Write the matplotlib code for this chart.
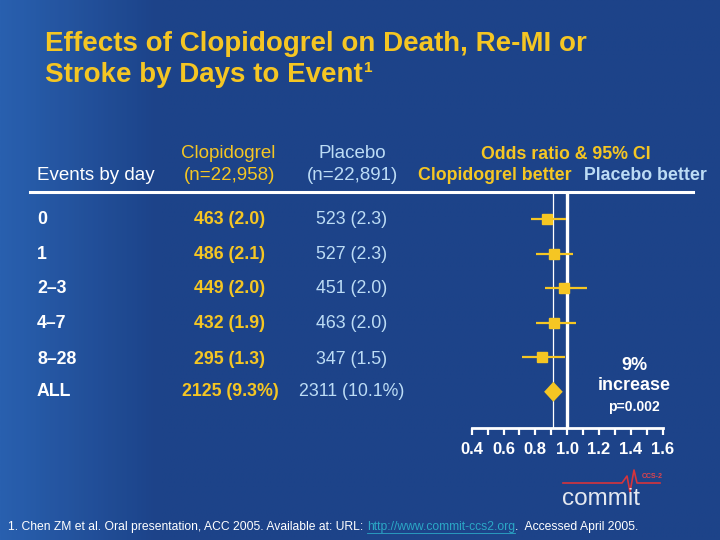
import numpy as np
import matplotlib
matplotlib.use("Agg")
import matplotlib.pyplot as plt
from matplotlib.lines import Line2D

plt.rcParams["font.family"] = ["Liberation Sans", "DejaVu Sans"]

# data
days = ["0", "1", "2\u20133", "4\u20137", "8\u201328", "ALL"]
clop_events = ["463 (2.0)", "486 (2.1)", "449 (2.0)", "432 (1.9)", "295 (1.3)", "2125 (9.3%)"]
plac_events = ["523 (2.3)", "527 (2.3)", "451 (2.0)", "463 (2.0)", "347 (1.5)", "2311 (10.1%)"]
odds = [0.875, 0.918, 0.98, 0.918, 0.842]
ci_lo = [0.773, 0.805, 0.861, 0.805, 0.716]
ci_hi = [0.993, 1.035, 1.123, 1.056, 0.987]
all_or, all_lo, all_hi = 0.913, 0.855, 0.972
xticks = [0.4, 0.6, 0.8, 1.0, 1.2, 1.4, 1.6]

BG = "#1d4389"
YEL = "#f5c623"
LBLUE = "#bcdcf5"
W, H = 720, 540


def fx(x):
    return x / W


def fy(y):
    return 1 - y / H


fig = plt.figure(figsize=(7.2, 5.4), dpi=100, facecolor=BG)

# soft lighter band on the left edge
bg = fig.add_axes([0, 0, 1, 1], zorder=-10)
grad = np.linspace(0, 1, 300)
left = np.clip(1 - grad * 4.5, 0, 1)[None, :]
bg.imshow(np.repeat(left, 10, axis=0), cmap=matplotlib.colors.LinearSegmentedColormap.from_list(
    "bgc", [BG, "#2b64b4"]), aspect="auto", extent=[0, 1, 0, 1], alpha=0.9)
bg.axis("off")

# title
t1 = fig.text(fx(45), fy(44), "Effects of Clopidogrel on Death, Re-MI or", color=YEL,
              fontsize=20, fontweight="bold", va="center", ha="left")
t2 = fig.text(fx(45), fy(75), "Stroke by Days to Event", color=YEL,
              fontsize=20, fontweight="bold", va="center", ha="left")

# headers
HS = 13.5
fig.text(fx(37), fy(176), "Events by day", color="white", fontsize=HS, va="center")
fig.text(fx(228), fy(153), "Clopidogrel", color=YEL, fontsize=HS, va="center", ha="center")
fig.text(fx(230), fy(176), "(n=22,958)", color=YEL, fontsize=HS, va="center", ha="center")
fig.text(fx(352), fy(153), "Placebo", color=LBLUE, fontsize=HS, va="center", ha="center")
fig.text(fx(352), fy(176), "(n=22,891)", color=LBLUE, fontsize=HS, va="center", ha="center")
fig.text(fx(566), fy(155), "Odds ratio & 95% CI", color=YEL, fontsize=12.8,
         fontweight="bold", va="center", ha="center")
fig.text(fx(572), fy(175), "Clopidogrel better", color=YEL, fontsize=12.8,
         fontweight="bold", va="center", ha="right")
fig.text(fx(584), fy(175), "Placebo better", color=LBLUE, fontsize=12.8,
         fontweight="bold", va="center", ha="left")

fig.add_artist(Line2D([fx(30), fx(693)], [fy(191.5), fy(191.5)], color="white", lw=2.2))

# table rows
RS = 12.8
row_y = [219.3, 254.3, 288.7, 324, 359.5, 391.7]
for i, d in enumerate(days):
    yy = fy(row_y[i])
    fig.text(fx(37), yy, d, color="white", fontsize=RS, fontweight="bold", va="center")
    fig.text(fx(230), yy, clop_events[i], color=YEL, fontsize=RS, fontweight="bold",
             va="center", ha="center")
    fig.text(fx(352), yy, plac_events[i], color=LBLUE, fontsize=RS,
             va="center", ha="center")

# forest plot
x0, x1 = 471.7, 662.7
ytop, ybot = 191.7, 428
ax = fig.add_axes([fx(x0), fy(ybot), (x1 - x0) / W, (ybot - ytop) / H])
ax.set_facecolor("none")
ax.set_xlim(0.4, 1.6)
ax.set_ylim(6.05, -0.8)
rows = np.arange(len(odds))
ax.hlines(rows, ci_lo, ci_hi, color=YEL, lw=1.6, zorder=3)
ax.plot(odds, rows, "s", color=YEL, ms=6.5, zorder=4)
ax.fill([all_lo, all_or, all_hi, all_or], [5, 5 - 0.29, 5, 5 + 0.29], color=YEL, zorder=4, lw=0)
ax.axvline(1.0, color="white", lw=2.4, zorder=2)
ax.axvline(all_or, color="white", lw=0.9, zorder=2)

for s in ["top", "right", "left"]:
    ax.spines[s].set_visible(False)
ax.spines["bottom"].set_color("white")
ax.spines["bottom"].set_linewidth(2)
ax.set_yticks([])
ax.set_xticks(xticks)
ax.set_xticklabels([f"{v:.1f}" for v in xticks], fontweight="bold")
ax.set_xticks(np.arange(0.4, 1.61, 0.1), minor=True)
ax.tick_params(axis="x", which="both", direction="out", length=5, width=1.6,
               color="white", labelcolor="white", labelsize=12, pad=5)

fig.text(fx(634), fy(366), "9%", color="white", fontsize=13, fontweight="bold",
         ha="center", va="center")
fig.text(fx(634), fy(386), "increase", color="white", fontsize=13, fontweight="bold",
         ha="center", va="center")
fig.text(fx(634), fy(407), "p=0.002", color="white", fontsize=10, fontweight="bold",
         ha="center", va="center")

# logo
fig.text(fx(562), fy(505), "commit", color="#e4e8f0", fontsize=17.5, ha="left", va="baseline")
fig.add_artist(Line2D([fx(563), fx(622), fx(627), fx(630), fx(634), fx(637), fx(660)],
                      [fy(483), fy(483), fy(476), fy(492), fy(470), fy(483), fy(483)],
                      color="#d7343c", lw=1.2))
fig.text(fx(652), fy(477), "CCS-2", color="#e0444c", fontsize=5, fontweight="bold",
         ha="center", va="center")

# footnote
fig.canvas.draw()
r = fig.canvas.get_renderer()
bb = t2.get_window_extent(r)
fig.text(bb.x1 / W + 0.002, fy(68), "1", color=YEL, fontsize=11, fontweight="bold",
         va="center", ha="left")

FS = 8.75
f1 = fig.text(fx(8), fy(527), "1. Chen ZM et al. Oral presentation, ACC 2005. Available at: URL: ",
              color="white", fontsize=FS, va="center")
b1 = f1.get_window_extent(r)
f2 = fig.text(b1.x1 / W, fy(527), "http://www.commit-ccs2.org", color="#2ba7c6",
              fontsize=FS, va="center")
b2 = f2.get_window_extent(r)
fig.add_artist(Line2D([b2.x0 / W, b2.x1 / W], [fy(533), fy(533)], color="#2ba7c6", lw=0.6))
fig.text(b2.x1 / W, fy(527), ".  Accessed April 2005.", color="white", fontsize=FS, va="center")

fig.savefig("out.png", dpi=100, facecolor=BG)
